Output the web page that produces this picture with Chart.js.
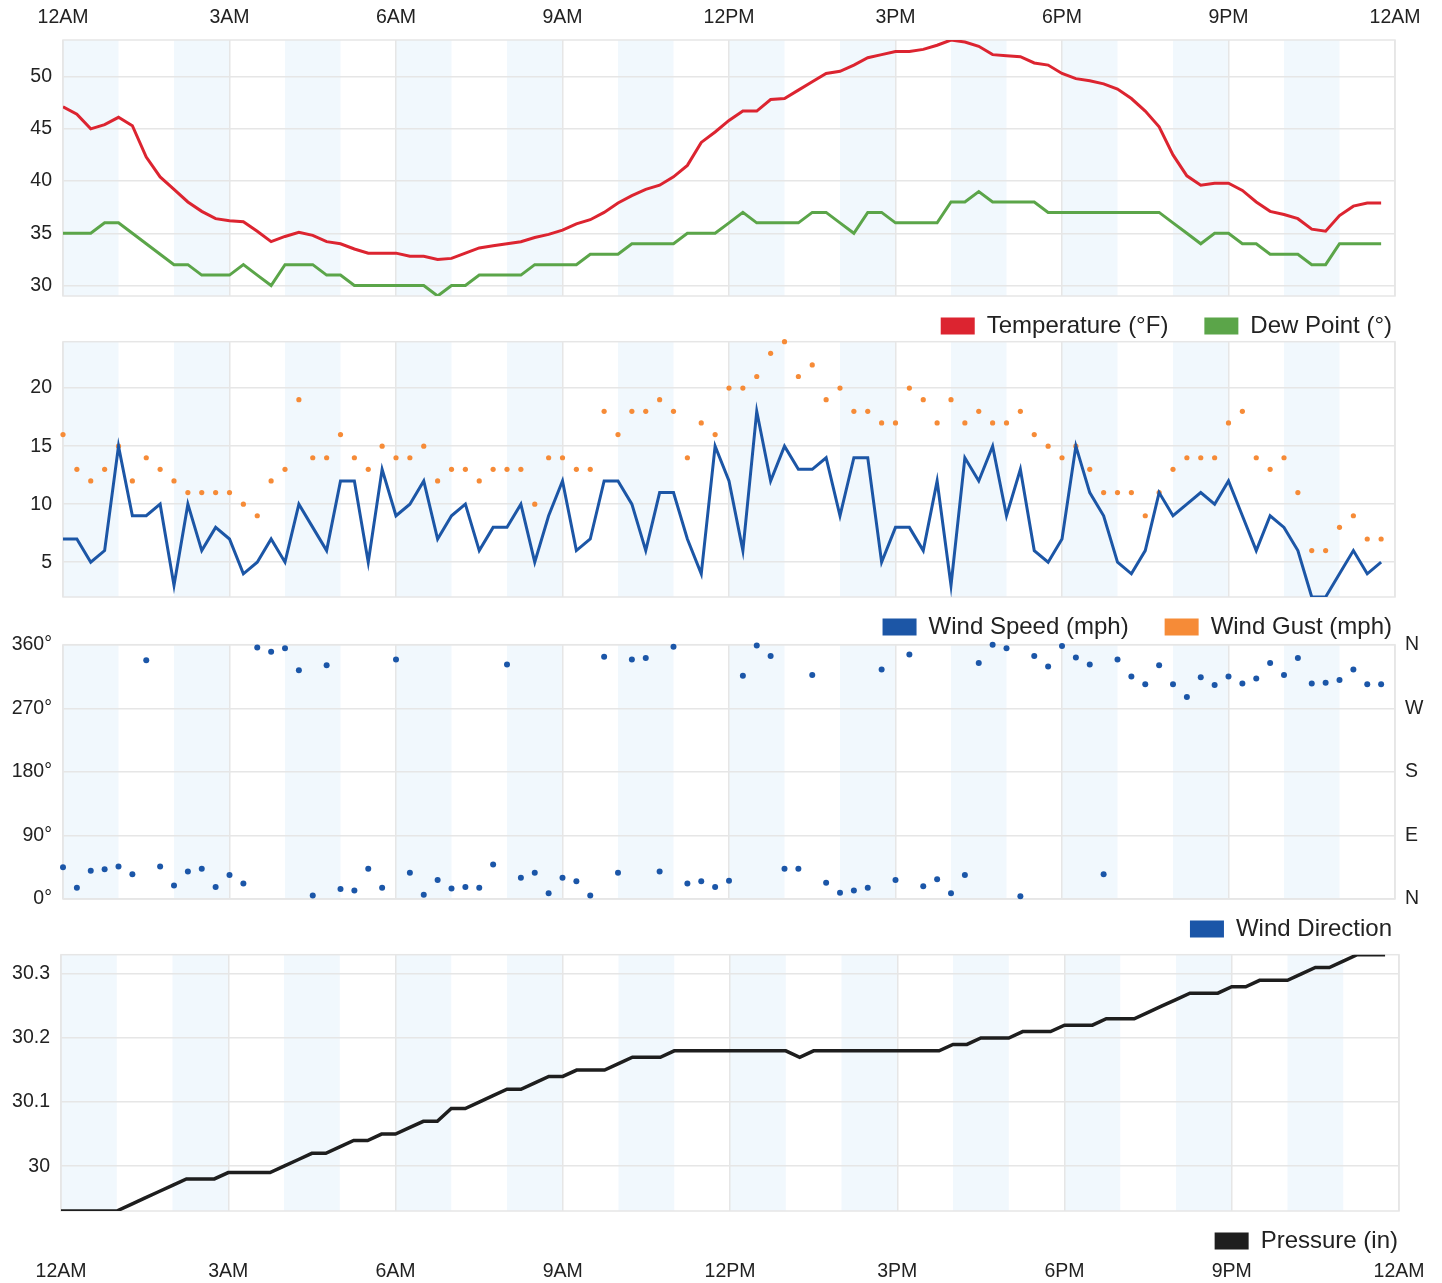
<!DOCTYPE html>
<html>
<head>
<meta charset="utf-8">
<script src="https://cdn.jsdelivr.net/npm/chart.js@4.4.0/dist/chart.umd.min.js"></script>
<style>
html, body { margin: 0; padding: 0; background: #fff; }
#wrap { position: relative; width: 1442px; height: 1283px; overflow: hidden; }
#wrap canvas { position: absolute; left: 0; }
</style>
</head>
<body>
<div id="wrap">
  <canvas id="tempChart" width="1442" height="366" style="top:0px"></canvas>
  <canvas id="windChart" width="1442" height="348" style="top:319px"></canvas>
  <canvas id="dirChart" width="1442" height="347" style="top:622px"></canvas>
  <canvas id="presChart" width="1442" height="349" style="top:932px"></canvas>
</div>
<script>
'use strict';

// observation times (every 15 min)
var times = [
  '00:00','00:15','00:30','00:45','01:00','01:15','01:30','01:45',
  '02:00','02:15','02:30','02:45','03:00','03:15','03:30','03:45',
  '04:00','04:15','04:30','04:45','05:00','05:15','05:30','05:45',
  '06:00','06:15','06:30','06:45','07:00','07:15','07:30','07:45',
  '08:00','08:15','08:30','08:45','09:00','09:15','09:30','09:45',
  '10:00','10:15','10:30','10:45','11:00','11:15','11:30','11:45',
  '12:00','12:15','12:30','12:45','13:00','13:15','13:30','13:45',
  '14:00','14:15','14:30','14:45','15:00','15:15','15:30','15:45',
  '16:00','16:15','16:30','16:45','17:00','17:15','17:30','17:45',
  '18:00','18:15','18:30','18:45','19:00','19:15','19:30','19:45',
  '20:00','20:15','20:30','20:45','21:00','21:15','21:30','21:45',
  '22:00','22:15','22:30','22:45','23:00','23:15','23:30','23:45'
];

var temperature = [
  47.1, 46.4, 45.0, 45.4, 46.1, 45.3, 42.3, 40.4,
  39.2, 38.0, 37.1, 36.4, 36.2, 36.1, 35.2, 34.2,
  34.7, 35.1, 34.8, 34.2, 34.0, 33.5, 33.1, 33.1,
  33.1, 32.8, 32.8, 32.5, 32.6, 33.1, 33.6, 33.8,
  34.0, 34.2, 34.6, 34.9, 35.3, 35.9, 36.3, 37.0,
  37.9, 38.6, 39.2, 39.6, 40.4, 41.5, 43.7, 44.7,
  45.8, 46.7, 46.7, 47.8, 47.9, 48.7, 49.5, 50.3,
  50.5, 51.1, 51.8, 52.1, 52.4, 52.4, 52.6, 53.0,
  53.5, 53.3, 52.9, 52.1, 52.0, 51.9, 51.3, 51.1,
  50.3, 49.8, 49.6, 49.3, 48.8, 47.9, 46.7, 45.2,
  42.5, 40.5, 39.6, 39.8, 39.8, 39.1, 38.0, 37.1,
  36.8, 36.4, 35.4, 35.2, 36.7, 37.6, 37.9, 37.9
];
var dewPoint = [
  35, 35, 35, 36, 36, 35, 34, 33,
  32, 32, 31, 31, 31, 32, 31, 30,
  32, 32, 32, 31, 31, 30, 30, 30,
  30, 30, 30, 29, 30, 30, 31, 31,
  31, 31, 32, 32, 32, 32, 33, 33,
  33, 34, 34, 34, 34, 35, 35, 35,
  36, 37, 36, 36, 36, 36, 37, 37,
  36, 35, 37, 37, 36, 36, 36, 36,
  38, 38, 39, 38, 38, 38, 38, 37,
  37, 37, 37, 37, 37, 37, 37, 37,
  36, 35, 34, 35, 35, 34, 34, 33,
  33, 33, 32, 32, 34, 34, 34, 34
];
var windSpeed = [
  7, 7, 5, 6, 15, 9, 9, 10,
  3, 10, 6, 8, 7, 4, 5, 7,
  5, 10, 8, 6, 12, 12, 5, 13,
  9, 10, 12, 7, 9, 10, 6, 8,
  8, 10, 5, 9, 12, 6, 7, 12,
  12, 10, 6, 11, 11, 7, 4, 15,
  12, 6, 18, 12, 15, 13, 13, 14,
  9, 14, 14, 5, 8, 8, 6, 12,
  3, 14, 12, 15, 9, 13, 6, 5,
  7, 15, 11, 9, 5, 4, 6, 11,
  9, 10, 11, 10, 12, 9, 6, 9,
  8, 6, 2, 2, 4, 6, 4, 5
];
var windGust = [
  16, 13, 12, 13, 15, 12, 14, 13,
  12, 11, 11, 11, 11, 10, 9, 12,
  13, 19, 14, 14, 16, 14, 13, 15,
  14, 14, 15, 12, 13, 13, 12, 13,
  13, 13, 10, 14, 14, 13, 13, 18,
  16, 18, 18, 19, 18, 14, 17, 16,
  20, 20, 21, 23, 24, 21, 22, 19,
  20, 18, 18, 17, 17, 20, 19, 17,
  19, 17, 18, 17, 17, 18, 16, 15,
  14, 15, 13, 11, 11, 11, 9, 11,
  13, 14, 14, 14, 17, 18, 14, 13,
  14, 11, 6, 6, 8, 9, 7, 7
];
var windDir = [
  45, 16, 40, 42, 46, 35, 338, 46,
  19, 39, 43, 17, 34, 22, 356, 350,
  355, 324, 5, 331, 14, 12, 43, 16,
  339, 37, 6, 27, 15, 17, 16, 49,
  332, 30, 37, 8, 30, 25, 5, 343,
  37, 339, 341, 39, 357, 22, 25, 17,
  26, 316, 359, 344, 43, 43, 317, 23,
  9, 12, 16, 325, 27, 346, 18, 28,
  8, 34, 334, 360, 355, 4, 344, 329,
  358, 342, 332, 35, 339, 315, 304, 331,
  304, 286, 314, 303, 315, 305, 312, 334,
  317, 341, 305, 306, 310, 325, 304, 304
];
var pressure = [
  29.93, 29.93, 29.93, 29.93, 29.93, 29.94, 29.95, 29.96,
  29.97, 29.98, 29.98, 29.98, 29.99, 29.99, 29.99, 29.99,
  30.00, 30.01, 30.02, 30.02, 30.03, 30.04, 30.04, 30.05,
  30.05, 30.06, 30.07, 30.07, 30.09, 30.09, 30.10, 30.11,
  30.12, 30.12, 30.13, 30.14, 30.14, 30.15, 30.15, 30.15,
  30.16, 30.17, 30.17, 30.17, 30.18, 30.18, 30.18, 30.18,
  30.18, 30.18, 30.18, 30.18, 30.18, 30.17, 30.18, 30.18,
  30.18, 30.18, 30.18, 30.18, 30.18, 30.18, 30.18, 30.18,
  30.19, 30.19, 30.20, 30.20, 30.20, 30.21, 30.21, 30.21,
  30.22, 30.22, 30.22, 30.23, 30.23, 30.23, 30.24, 30.25,
  30.26, 30.27, 30.27, 30.27, 30.28, 30.28, 30.29, 30.29,
  30.29, 30.30, 30.31, 30.31, 30.32, 30.33, 30.33, 30.33
];

var hourTicks = [0, 3, 6, 9, 12, 15, 18, 21, 24];
var hourLabels = ['12AM', '3AM', '6AM', '9AM', '12PM', '3PM', '6PM', '9PM', '12AM'];
var shadedHours = [0, 2, 4, 6, 8, 10, 12, 14, 16, 18, 20, 22];
var tempTicks = [30, 35, 40, 45, 50];
var windTicks = [5, 10, 15, 20];
var dirTicks = [0, 90, 180, 270, 360];
var dirLabels = ['0°', '90°', '180°', '270°', '360°'];
var compassLabels = ['N', 'E', 'S', 'W', 'N'];
var presTicks = [30, 30.1, 30.2, 30.3];
var presLabels = ['30', '30.1', '30.2', '30.3'];

var GRID = '#e6e6e6';
var BAND = '#f1f8fd';
var TEXT = '#222';
var TICK_FONT = { size: 19.5 };

Chart.defaults.font.family = "'Liberation Sans', Arial, Helvetica, sans-serif";
Chart.defaults.color = TEXT;

var hours = times.map(function (t) {
    return Number(t.slice(0, 2)) + Number(t.slice(3)) / 60;
});

function points(values) {
    return values.map(function (v, i) { return { x: hours[i], y: v }; });
}

function fixTicks(list) {
    return function (scale) {
        scale.ticks = list.map(function (v) { return { value: v }; });
    };
}

// alternate hour shading + plot border
var bandPlugin = {
    id: 'bands',
    beforeDraw: function (chart) {
        var ctx = chart.ctx, area = chart.chartArea, x = chart.scales.x;
        ctx.save();
        ctx.fillStyle = BAND;
        shadedHours.forEach(function (h) {
            var l = x.getPixelForValue(h);
            var r = x.getPixelForValue(h + 1);
            ctx.fillRect(l, area.top, r - l, area.bottom - area.top);
        });
        ctx.restore();
    },
    beforeDatasetsDraw: function (chart) {
        var ctx = chart.ctx, area = chart.chartArea;
        ctx.save();
        ctx.strokeStyle = GRID;
        ctx.lineWidth = 1.5;
        ctx.strokeRect(area.left, area.top, area.right - area.left, area.bottom - area.top);
        ctx.restore();
    }
};

// move the legend up/down (legend padding also sets item spacing)
var legendLift = {
    id: 'legendLift',
    afterLayout: function (chart, args, opts) {
        var lg = chart.legend;
        if (lg && opts.by) {
            lg.top -= opts.by;
            lg.bottom -= opts.by;
        }
    }
};

function legendOpts(pad) {
    return {
        position: 'bottom',
        align: 'end',
        labels: {
            boxWidth: 34,
            boxHeight: 17,
            padding: pad,
            color: TEXT,
            font: { size: 24 },
            generateLabels: function (chart) {
                return chart.data.datasets.map(function (d, i) {
                    return {
                        text: d.label, fillStyle: d.borderColor, strokeStyle: d.borderColor,
                        lineWidth: 0, hidden: false, datasetIndex: i, fontColor: TEXT
                    };
                });
            }
        }
    };
}

function xAxis(position, height, showLabels, pad) {
    return {
        type: 'linear', min: 0, max: 24, position: position, weight: 2000,
        afterBuildTicks: fixTicks(hourTicks),
        afterFit: function (s) { s.height = height; },
        grid: { color: GRID, lineWidth: 1.5, drawTicks: false },
        border: { display: false },
        ticks: {
            display: showLabels, padding: pad, maxRotation: 0, autoSkip: false,
            font: TICK_FONT, color: TEXT,
            callback: function (v) { return hourLabels[hourTicks.indexOf(v)]; }
        }
    };
}

function yAxis(min, max, list, labels, width) {
    return {
        min: min, max: max,
        afterBuildTicks: fixTicks(list),
        afterFit: function (s) { s.width = width; },
        grid: { color: GRID, lineWidth: 1.5, drawTicks: false },
        border: { display: false },
        ticks: {
            padding: 11, font: TICK_FONT, color: TEXT,
            callback: function (v) { return labels ? labels[list.indexOf(v)] : v; }
        }
    };
}

function spacer(width) {
    return {
        position: 'right', display: true, min: 0, max: 1,
        afterFit: function (s) { s.width = width; },
        grid: { display: false, drawTicks: false }, border: { display: false },
        ticks: { display: false }
    };
}

function makeChart(id, datasets, scales, padding, legendPad, lift) {
    return new Chart(document.getElementById(id), {
        type: 'line',
        data: { datasets: datasets },
        plugins: [bandPlugin, legendLift],
        options: {
            responsive: false,
            animation: false,
            devicePixelRatio: 1,
            parsing: false,
            layout: { padding: padding },
            plugins: {
                legend: legendOpts(legendPad),
                legendLift: { by: lift },
                tooltip: { enabled: false }
            },
            scales: scales
        }
    });
}

var tempChart = makeChart('tempChart', [
    { label: 'Temperature (°F)', data: points(temperature), borderColor: '#dc2430', borderWidth: 3, pointRadius: 0 },
    { label: 'Dew Point (°)', data: points(dewPoint), borderColor: '#5ba549', borderWidth: 3, pointRadius: 0 }
], {
    x: xAxis('top', 40, true, 11),
    y: yAxis(Math.min.apply(null, dewPoint), Math.max.apply(null, temperature), tempTicks, null, 63),
    r: spacer(33)
}, { top: 0, right: 14, bottom: 0, left: 0 }, 36, 18);

var windChart = makeChart('windChart', [
    { label: 'Wind Speed (mph)', data: points(windSpeed), borderColor: '#1c56a6', borderWidth: 3, pointRadius: 0 },
    { label: 'Wind Gust (mph)', data: points(windGust), borderColor: '#f68b37', backgroundColor: '#f68b37',
      showLine: false, pointRadius: 2.6, pointBorderWidth: 0, clip: false }
], {
    x: xAxis('top', 0, false, 0),
    y: yAxis(Math.min.apply(null, windSpeed), Math.max.apply(null, windGust), windTicks, null, 63),
    r: spacer(33)
}, { top: 0, right: 14, bottom: 0, left: 0 }, 36, 18);

var dirChart = makeChart('dirChart', [
    { label: 'Wind Direction', data: points(windDir), borderColor: '#1b56a8', backgroundColor: '#1b56a8',
      showLine: false, pointRadius: 3, pointBorderWidth: 0, clip: false }
], {
    x: xAxis('top', 0, false, 0),
    y: yAxis(0, 360, dirTicks, dirLabels, 63),
    y2: {
        position: 'right', min: 0, max: 360,
        afterBuildTicks: fixTicks(dirTicks),
        afterFit: function (s) { s.width = 33; },
        grid: { display: false, drawTicks: false }, border: { display: false },
        ticks: {
            padding: 10, font: TICK_FONT, color: TEXT,
            callback: function (v) { return compassLabels[dirTicks.indexOf(v)]; }
        }
    }
}, { top: 0, right: 14, bottom: 0, left: 0 }, 36, 18);

var presChart = makeChart('presChart', [
    { label: 'Pressure (in)', data: points(pressure), borderColor: '#1e1e1e', borderWidth: 3.5, pointRadius: 0 }
], {
    x: xAxis('bottom', 26, true, 5),
    y: yAxis(Math.min.apply(null, pressure), Math.max.apply(null, pressure), presTicks, presLabels, 61),
    r: spacer(9)
}, { top: 0, right: 34, bottom: 0, left: 0 }, 10, -8);
</script>
</body>
</html>
